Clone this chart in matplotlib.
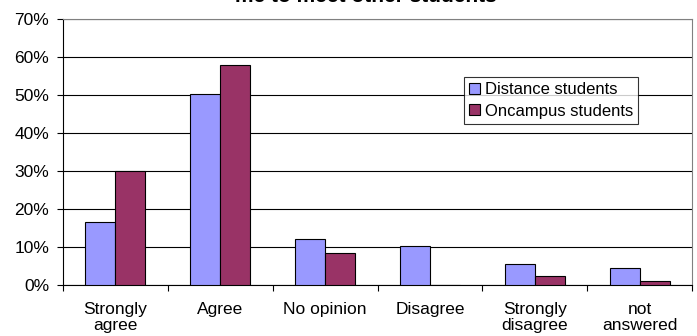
import numpy as np
import matplotlib.pyplot as plt

plt.rcParams['font.family'] = ['Liberation Sans', 'DejaVu Sans']

categories = ["Strongly\nagree", "Agree", "No opinion", "Disagree",
              "Strongly\ndisagree", "not\nanswered"]
distance = [16.7, 50.3, 12.0, 10.2, 5.6, 4.6]
oncampus = [30.1, 57.8, 8.4, 0.0, 2.5, 1.1]
series_names = ["Distance students", "Oncampus students"]

fig = plt.figure(figsize=(6.97, 3.36), dpi=100)
ax = fig.add_axes([63 / 697, 51 / 336, 629 / 697, 266 / 336])

x = np.arange(len(categories))
w = 1 / 3.5
ax.bar(x - w / 2, distance, w, color="#9999FF", edgecolor="black", linewidth=0.8,
       label=series_names[0], zorder=3)
ax.bar(x + w / 2, oncampus, w, color="#993366", edgecolor="black", linewidth=0.8,
       label=series_names[1], zorder=3)

ax.set_xlim(-0.5, len(categories) - 0.5)
ax.set_ylim(0, 70)
ax.set_yticks(np.arange(0, 71, 10))
ax.set_yticklabels([f"{v}%" for v in range(0, 71, 10)], fontsize=12.5)
ax.yaxis.grid(True, color="black", linewidth=0.8, zorder=0)

ax.set_xticks(np.arange(-0.5, len(categories), 1))
ax.set_xticklabels([])
ax.set_xticks(x, minor=True)
ax.set_xticklabels(categories, minor=True, fontsize=12.5, linespacing=1.15)
ax.tick_params(axis="x", which="major", direction="out", length=4, width=0.8)
ax.tick_params(axis="x", which="minor", length=0, pad=12)
ax.tick_params(axis="y", direction="out", length=4, width=0.8, pad=6)

for s in ["top", "right"]:
    ax.spines[s].set_color("#808080")
for s in ["left", "bottom"]:
    ax.spines[s].set_color("black")
for s in ax.spines.values():
    s.set_linewidth(0.8)

leg = ax.legend(loc="upper left", bbox_to_anchor=(0.6375, 0.782), borderaxespad=0,
                fontsize=12, fancybox=False, frameon=True, handlelength=0.66,
                handleheight=0.66, handletextpad=0.3, labelspacing=0.4,
                borderpad=0.3)
leg.get_frame().set_edgecolor("black")
leg.get_frame().set_linewidth(0.8)
leg.set_zorder(5)

fig.text(366 / 697, 1 - 2.5 / 336, "me to meet other students", ha="center",
         va="baseline", fontsize=15, fontweight="bold")

fig.savefig("out.png", dpi=100)
